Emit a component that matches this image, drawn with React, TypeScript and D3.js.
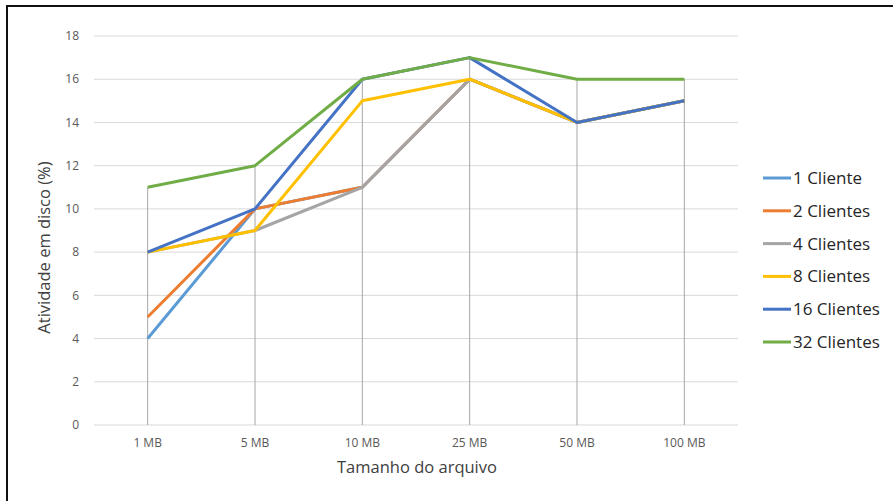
import React, { useRef, useEffect } from 'react';
import * as d3 from 'd3';

const categories = ['1 MB', '5 MB', '10 MB', '25 MB', '50 MB', '100 MB'];
const seriesNames = ['1 Cliente', '2 Clientes', '4 Clientes', '8 Clientes', '16 Clientes', '32 Clientes'];
const cliente1 = [4, 10, 11, 16, 14, 15];
const clientes2 = [5, 10, 11, 16, 14, 15];
const clientes4 = [8, 9, 11, 16, 14, 15];
const clientes8 = [8, 9, 15, 16, 14, 15];
const clientes16 = [8, 10, 16, 17, 14, 15];
const clientes32 = [11, 12, 16, 17, 16, 16];
const yTicks = [0, 2, 4, 6, 8, 10, 12, 14, 16, 18];
const colors = ['#5B9BD5', '#ED7D31', '#A5A5A5', '#FFC000', '#4472C4', '#70AD47'];

const App = () => {
  const ref = useRef<SVGSVGElement>(null);

  useEffect(() => {
    const svg = d3.select(ref.current);
    svg.selectAll('*').remove();

    const series = [cliente1, clientes2, clientes4, clientes8, clientes16, clientes32];
    const left = 94, right = 738, top = 36, bottom = 425;
    const font = '"Open Sans", sans-serif';

    const x = d3.scalePoint<string>().domain(categories).range([left, right]).padding(0.5);
    const y = d3.scaleLinear().domain([0, 18]).range([bottom, top]);

    // frame
    svg.append('rect')
      .attr('x', 7).attr('y', 6).attr('width', 1000).attr('height', 600)
      .attr('fill', 'white').attr('stroke', '#111').attr('stroke-width', 2);

    // horizontal gridlines
    svg.append('g').selectAll('line').data(yTicks).join('line')
      .attr('x1', left).attr('x2', right)
      .attr('y1', d => y(d)).attr('y2', d => y(d))
      .attr('stroke', '#d9d9d9').attr('stroke-width', 1);

    svg.append('g').selectAll('text').data(yTicks).join('text')
      .attr('x', 79).attr('y', d => y(d)).attr('dy', '0.35em')
      .attr('text-anchor', 'end')
      .attr('font-family', font).attr('font-size', 12).attr('fill', '#595959')
      .text(d => d);

    // drop lines
    svg.append('g').selectAll('line').data(categories).join('line')
      .attr('x1', d => x(d)!).attr('x2', d => x(d)!)
      .attr('y1', y(0))
      .attr('y2', (d, i) => y(d3.max(series, s => s[i])!))
      .attr('stroke', '#a6a6a6').attr('stroke-width', 1);

    svg.append('g').selectAll('text').data(categories).join('text')
      .attr('x', d => x(d)!).attr('y', 447)
      .attr('text-anchor', 'middle')
      .attr('font-family', font).attr('font-size', 12).attr('fill', '#595959')
      .text(d => d);

    const line = d3.line<number>()
      .x((d, i) => x(categories[i])!)
      .y(d => y(d));

    series.forEach((s, k) => {
      svg.append('path')
        .datum(s)
        .attr('fill', 'none')
        .attr('stroke', colors[k])
        .attr('stroke-width', 3)
        .attr('stroke-linejoin', 'round')
        .attr('d', line);
    });

    // axis titles
    svg.append('text')
      .attr('transform', `translate(50,${(top + bottom) / 2 + 17}) rotate(-90)`)
      .attr('text-anchor', 'middle')
      .attr('font-family', font).attr('font-size', 16.5).attr('fill', '#404040')
      .text('Atividade em disco (%)');

    svg.append('text')
      .attr('x', (left + right) / 2 + 1).attr('y', 473)
      .attr('text-anchor', 'middle')
      .attr('font-family', font).attr('font-size', 16.5).attr('fill', '#404040')
      .text('Tamanho do arquivo');

    // legend
    const lg = svg.append('g');
    seriesNames.forEach((name, k) => {
      const ly = 178 + k * 32.8;
      lg.append('line')
        .attr('x1', 763).attr('x2', 791).attr('y1', ly).attr('y2', ly)
        .attr('stroke', colors[k]).attr('stroke-width', 3);
      lg.append('text')
        .attr('x', 793).attr('y', ly).attr('dy', '0.35em')
        .attr('font-family', font).attr('font-size', 17).attr('fill', '#262626')
        .text(name);
    });
  }, []);

  return (
    <div style={{ position: 'absolute', left: 0, top: 0 }}>
      <svg ref={ref} width={893} height={501} style={{ display: 'block' }}></svg>
    </div>
  );
};

export default App;
